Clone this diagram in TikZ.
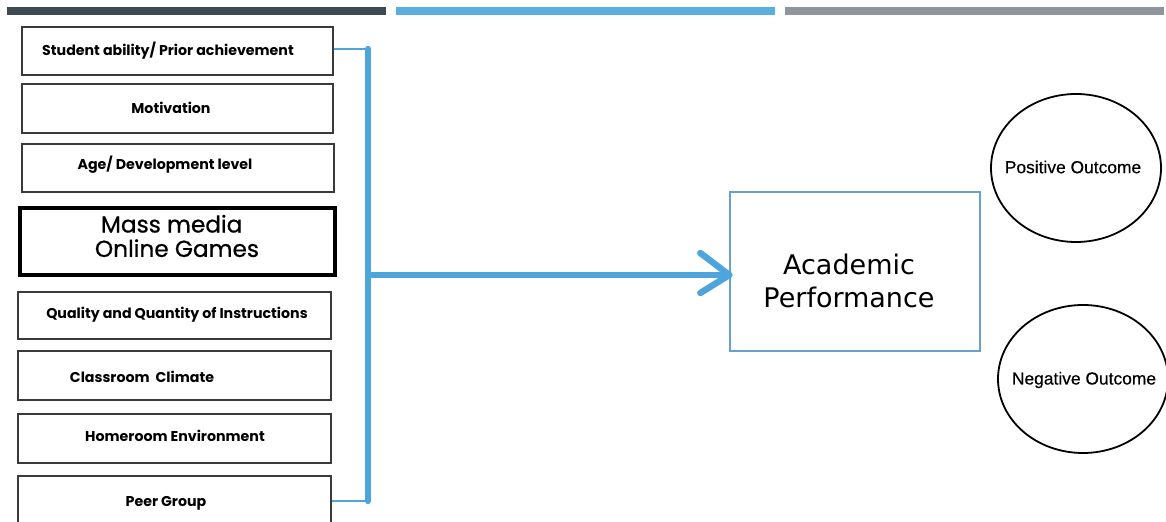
\documentclass[tikz,border=0pt]{standalone}
\usepackage{fontspec}
\setmainfont{Poppins}
\newfontfamily\massfont[FakeBold=0.7]{Poppins}
\newfontfamily\apfont{DejaVu Sans}
\newfontfamily\oufont[FakeBold=0.4]{Liberation Sans}
\usetikzlibrary{shapes.geometric,arrows.meta,calc}
\definecolor{barDark}{HTML}{3E4A52}
\definecolor{barBlue}{HTML}{5AAEE0}
\definecolor{barGray}{HTML}{8E959C}
\definecolor{lineBlue}{HTML}{4EA5DC}
\definecolor{apBlue}{HTML}{6A9FCB}
\definecolor{boxGray}{HTML}{3A3A3A}
\tikzset{
  x=0.5pt,y=-0.5pt,
  fbox/.style={draw=boxGray,line width=0.6pt,inner sep=0pt},
  mbox/.style={draw=black,line width=2pt,inner sep=0pt},
  lbl/.style={inner sep=0pt,font=\bfseries\fontsize{7.1pt}{8.5pt}\selectfont},
  thinblue/.style={draw=lineBlue,line width=0.6pt},
  thickblue/.style={draw=lineBlue,line width=3.2pt,line cap=round},
  oval/.style={ellipse,draw=black,line width=0.9pt,inner sep=0pt},
}
\begin{document}
\begin{tikzpicture}
\useasboundingbox[fill=white] (0,0) rectangle (1166,522);
% top bars
\fill[barDark] (7,7) rectangle (386,15);
\fill[barBlue] (396,7) rectangle (775,15);
\fill[barGray] (785,7) rectangle (1164,15);
% left boxes
\node[fbox,minimum width=155.5pt,minimum height=24pt] (b1) at (177.5,51) {};
\node[fbox,minimum width=155.5pt,minimum height=24.5pt] (b2) at (177.5,108.5) {};
\node[fbox,minimum width=156pt,minimum height=24pt] (b3) at (178,168) {};
\node[mbox,minimum width=157.5pt,minimum height=33.5pt] (b4) at (177.5,241.5) {};
\node[fbox,minimum width=156.5pt,minimum height=23.5pt] (b5) at (174.5,315.5) {};
\node[fbox,minimum width=156.5pt,minimum height=24.5pt] (b6) at (174.5,375.5) {};
\node[fbox,minimum width=156.5pt,minimum height=24.5pt] (b7) at (174.5,438.5) {};
\node[fbox,minimum width=156.5pt,minimum height=27pt] (b8) at (174.5,503) {};
% labels
\node[lbl] (t1) at (168,51) {Student ability/ Prior achievement};
\node[lbl] (t2) at (171,108) {Motivation};
\node[lbl] (t3) at (165,165) {Age/ Development level};
\node[inner sep=0pt,font=\massfont\fontsize{11.6pt}{12.2pt}\selectfont,align=left] (t4) at (177,236) {\hspace{3pt}Mass media\\Online Games};
\node[lbl] (t5) at (177,315) {Quality and Quantity of Instructions};
\node[lbl] (t6) at (142,377) {Classroom\ \ Climate};
\node[lbl] (t7) at (175,436) {Homeroom Environment};
\node[lbl] (t8) at (166,503) {Peer Group};
% academic performance
\node[draw=apBlue,line width=0.7pt,minimum width=125pt,minimum height=79.5pt,inner sep=0pt] (ap) at (855,271.5) {};
\node[inner sep=0pt,font=\apfont\fontsize{13.5pt}{16.5pt}\selectfont,align=center] (apt) at (849,281) {Academic\\Performance};
% outcomes
\node[oval,minimum width=85pt,minimum height=74pt] (po) at (1076,168) {};
\node[inner sep=0pt,font=\oufont\fontsize{8.7pt}{10pt}\selectfont] (pot) at (1073,167) {Positive Outcome};
\node[oval,minimum width=85pt,minimum height=74pt] (no) at (1083,379) {};
\node[inner sep=0pt,font=\oufont\fontsize{8.7pt}{10pt}\selectfont] (not) at (1084,380) {Negative Outcome};
% bracket
\coordinate (vt) at (368,49);
\coordinate (vb) at (368,501);
\coordinate (vm) at (368,275);
\draw[thinblue] (b1.east |- vt) -- (vt);
\draw[thinblue] (b8.east |- vb) -- (vb);
\draw[thickblue] (vt) -- (vb);
\draw[thickblue] (vm) -- (ap.west |- vm);
\draw[thickblue,line join=round] ($(ap.west |- vm)+(-29,-22)$) -- (ap.west |- vm) -- ($(ap.west |- vm)+(-29,18)$);
\end{tikzpicture}
\end{document}
